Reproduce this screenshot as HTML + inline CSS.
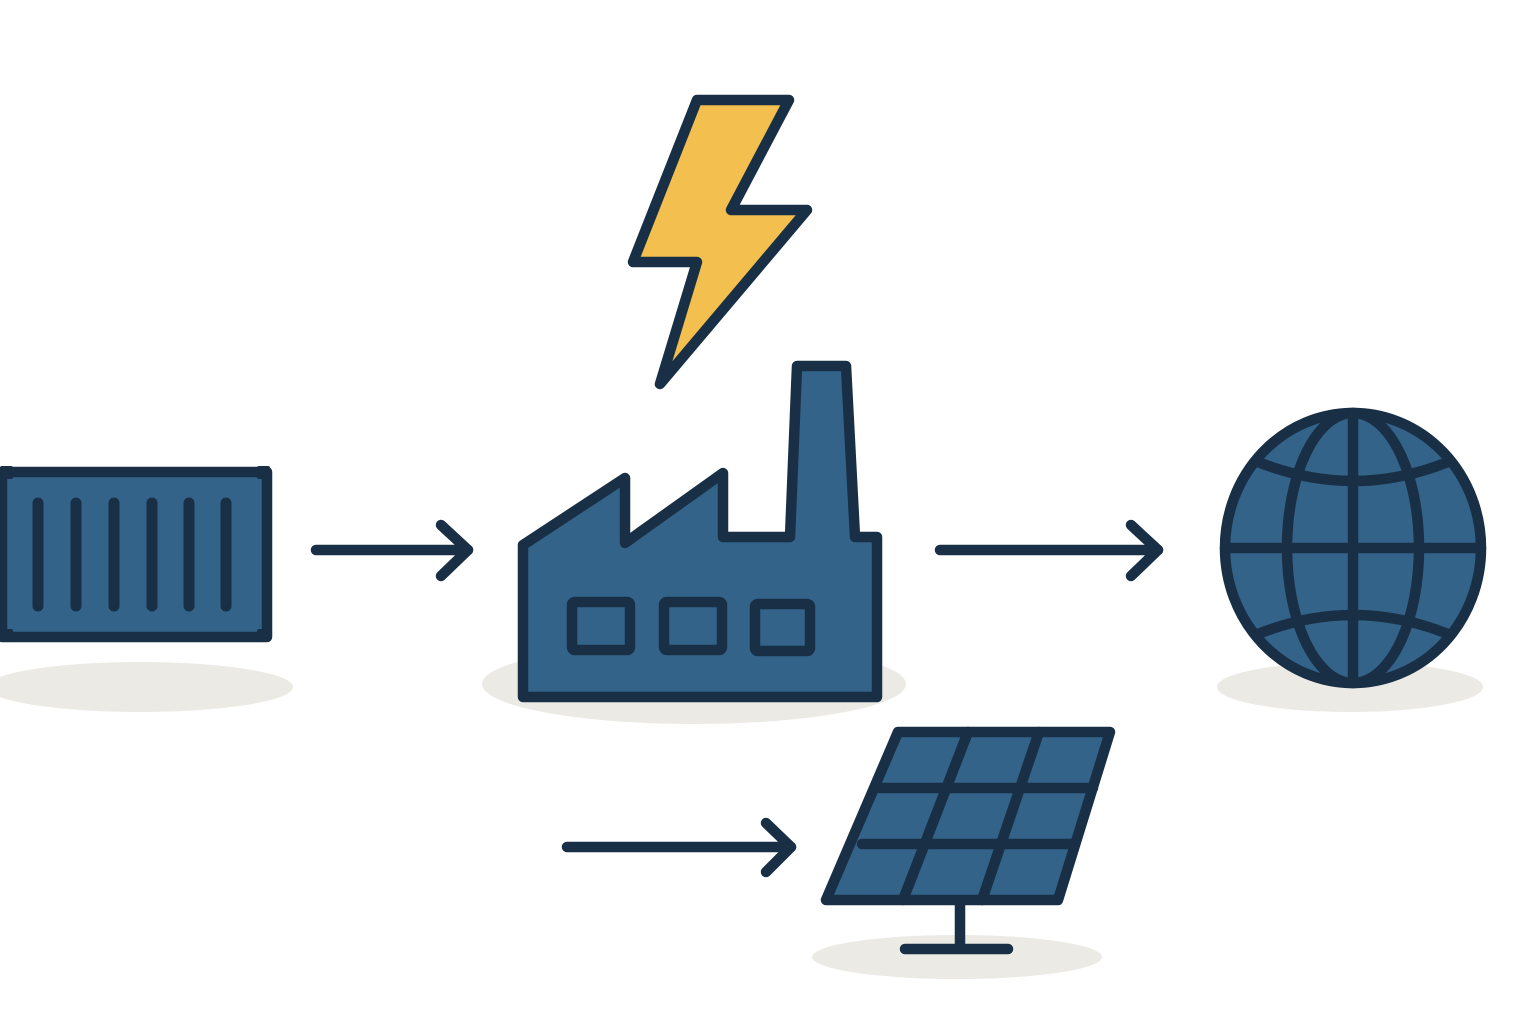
<!DOCTYPE html>
<html><head><meta charset="utf-8"><style>html,body{margin:0;padding:0;background:#fff}svg{display:block}</style></head>
<body>
<svg width="1536" height="1024" viewBox="0 0 1536 1024" xmlns="http://www.w3.org/2000/svg">
<g fill="#ebeae5">
<ellipse cx="140" cy="687" rx="153" ry="25"/>
<ellipse cx="694" cy="684" rx="212" ry="40"/>
<ellipse cx="1350" cy="687" rx="133" ry="25"/>
<ellipse cx="957" cy="957" rx="145" ry="22"/>
</g>
<g stroke="#192f45" stroke-width="10.5" stroke-linecap="round" stroke-linejoin="round" fill="none">
<rect x="2" y="472" width="265" height="165" fill="#336389"/>
<g stroke-width="11">
<line x1="38" y1="503" x2="38" y2="606"/><line x1="76" y1="503" x2="76" y2="606"/>
<line x1="114" y1="503" x2="114" y2="606"/><line x1="152" y1="503" x2="152" y2="606"/>
<line x1="189" y1="503" x2="189" y2="606"/><line x1="226" y1="503" x2="226" y2="606"/>
</g>
<path d="M697,100 L789,100 L731,210 L807,210 L660,384 L697,262 L633,262 Z" fill="#f3bf4f"/>
<path d="M523,545 L625,478 L625,543 L723,473 L723,537 L790,537 L797,366 L846,366 L855,537 L877,537 L877,697 L523,697 Z" fill="#336389"/>
<rect x="572" y="602" width="58" height="48" rx="3"/>
<rect x="664" y="602" width="58" height="48" rx="3"/>
<rect x="755" y="604" width="55" height="47" rx="3"/>
<ellipse cx="1353" cy="548" rx="128" ry="135" fill="#336389"/>
<ellipse cx="1353" cy="548" rx="66" ry="135"/>
<line x1="1353" y1="413" x2="1353" y2="683"/>
<line x1="1225" y1="548" x2="1481" y2="548"/>
<path d="M1258,462 Q1353,500 1448,462"/>
<path d="M1258,634 Q1353,596 1448,634"/>
<line x1="960" y1="900" x2="960" y2="948"/>
<line x1="905" y1="949" x2="1008" y2="949"/>
<path d="M898,732 L1110,732 L1058,900 L826,900 Z" fill="#336389"/>
<line x1="880" y1="788" x2="1093" y2="788"/>
<line x1="862" y1="844" x2="1075" y2="844"/>
<line x1="968" y1="732" x2="903" y2="900"/>
<line x1="1039" y1="732" x2="982" y2="900"/>
<line x1="316" y1="550" x2="468" y2="550"/><polyline points="441,525 468,550 441,576"/>
<line x1="940" y1="550" x2="1158" y2="550"/><polyline points="1131,525 1158,550 1131,576"/>
<line x1="567" y1="847" x2="791" y2="847"/><polyline points="766,823 791,847 766,872"/>
</g>
<g fill="#192f45">
<rect x="0" y="466" width="13" height="13" rx="2"/><rect x="257" y="466" width="13" height="13" rx="2"/>
<rect x="0" y="629" width="13" height="13" rx="2"/><rect x="257" y="629" width="13" height="13" rx="2"/>
</g>
</svg>
</body></html>
